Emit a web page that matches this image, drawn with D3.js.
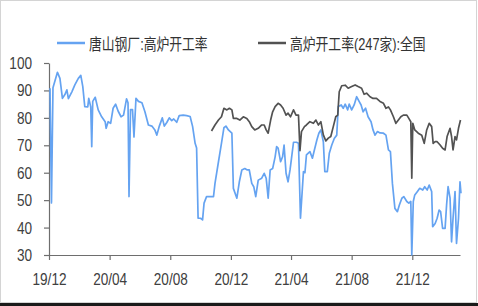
<html>
    <head>
        <meta name="viewport" content="width=device-width, initial-scale=1" />
        <script src="https://d3js.org/d3.v7.min.js"></script>
        <title>高炉开工率</title>
        <style>
            body { margin: 0; background: #fff; }
            text { font-family: "Liberation Sans", "Noto Sans CJK SC", sans-serif; }
        </style>
    </head>

    <body>
        <div id="chart"></div>
    </body>

    <script>
        // 唐山钢厂:高炉开工率
        var tangshanDates = [
            "2019-12-03","2019-12-06","2019-12-09","2019-12-18","2019-12-23","2019-12-28","2020-01-02","2020-01-06",
            "2020-01-09","2020-01-16","2020-01-22","2020-01-29","2020-02-03","2020-02-07","2020-02-11","2020-02-17",
            "2020-02-19","2020-02-23","2020-02-25","2020-02-27","2020-03-03","2020-03-09","2020-03-16","2020-03-23",
            "2020-03-25","2020-03-29","2020-04-03","2020-04-08","2020-04-13","2020-04-18","2020-04-24","2020-04-29",
            "2020-05-05","2020-05-08","2020-05-10","2020-05-13","2020-05-17","2020-05-20","2020-05-24","2020-05-29",
            "2020-06-05","2020-06-11","2020-06-18","2020-06-25","2020-07-01","2020-07-05","2020-07-10","2020-07-16",
            "2020-07-20","2020-07-25","2020-07-30","2020-08-04","2020-08-08","2020-08-14","2020-08-19","2020-08-27",
            "2020-09-03","2020-09-10","2020-09-15","2020-09-20","2020-09-23","2020-09-26","2020-10-01","2020-10-05",
            "2020-10-08","2020-10-13","2020-10-20","2020-10-27","2020-10-30","2020-11-06","2020-11-12","2020-11-17",
            "2020-11-21","2020-11-26","2020-12-03","2020-12-06","2020-12-13","2020-12-18","2020-12-23","2020-12-29",
            "2021-01-03","2021-01-07","2021-01-12","2021-01-16","2021-01-20","2021-01-25","2021-02-01","2021-02-06",
            "2021-02-10","2021-02-14","2021-02-18","2021-02-23","2021-02-28","2021-03-03","2021-03-06","2021-03-11",
            "2021-03-15","2021-03-18","2021-03-22","2021-03-26","2021-03-30","2021-04-02","2021-04-06","2021-04-12",
            "2021-04-16","2021-04-20","2021-04-26","2021-04-29","2021-05-02","2021-05-09","2021-05-14","2021-05-18",
            "2021-05-23","2021-05-27","2021-05-31","2021-06-05","2021-06-08","2021-06-13","2021-06-17","2021-06-22",
            "2021-06-27","2021-07-02","2021-07-05","2021-07-11","2021-07-15","2021-07-19","2021-07-24","2021-07-27",
            "2021-08-01","2021-08-06","2021-08-11","2021-08-16","2021-08-20","2021-08-24","2021-08-29","2021-09-03",
            "2021-09-09","2021-09-13","2021-09-17","2021-09-22","2021-09-27","2021-10-04","2021-10-09","2021-10-14",
            "2021-10-18","2021-10-22","2021-10-27","2021-11-01","2021-11-05","2021-11-10","2021-11-14","2021-11-20",
            "2021-11-24","2021-11-28","2021-11-30","2021-12-03","2021-12-06","2021-12-11","2021-12-16","2021-12-22",
            "2021-12-26","2021-12-31","2022-01-04","2022-01-09","2022-01-11","2022-01-16","2022-01-20","2022-01-24",
            "2022-01-27","2022-01-31","2022-02-05","2022-02-08","2022-02-11","2022-02-15","2022-02-18","2022-02-21",
            "2022-02-25","2022-02-28","2022-03-04","2022-03-07","2022-03-09"
        ];
        var tangshanRate = [
            90.8, 49, 91, 96.6, 94.4, 87.1, 88.5, 90.2,
            87, 89.5, 92, 94.4, 95.5, 91.4, 84.1, 84,
            87.1, 84, 69.5, 86, 87.5, 82.9, 80.4, 78.6,
            76.2, 78.6, 78, 83.5, 85, 82.5, 80.4, 81,
            86.9, 85.5, 51.3, 83, 83, 73, 87.1, 86,
            85.5, 82.2, 77.4, 77, 75.6, 73.7, 77, 80,
            77, 78.3, 80, 79, 79.6, 78.4, 80.8, 81,
            80.8, 80.5, 76.8, 70.7, 69, 43.4, 43.4, 42.8,
            48.9, 51.3, 51.3, 51.3, 56.1, 64, 70.7, 76.4,
            77, 75.6, 74.4, 54.3, 50.7, 56.7, 61, 61.5,
            61, 61, 56.1, 54.9, 51.3, 57.3, 58, 59.8,
            58, 50.7, 61, 61.5, 65.8, 69.5, 69, 64,
            65.8, 70.1, 59.8, 56.7, 61, 65.3, 71.1, 71.1,
            70.7, 43.4, 60.4, 60, 66.5, 67.7, 65.3, 68.3,
            71.9, 74.4, 75.6, 71.3, 60.4, 60.4, 67.1, 70.1,
            72.5, 73.7, 84.1, 84.7, 83.5, 85, 82.9, 85,
            82.9, 84.7, 87.7, 86, 84.7, 82.2, 83.5, 80.4,
            78.6, 75.6, 73.7, 75, 74.5, 74.4, 73.7, 68.3,
            67.7, 56.1, 47, 45.8, 48.2, 50.7, 51.3, 49.5,
            48.9, 49.5, 30, 49.5, 51.9, 53.1, 54.3, 53.7,
            54.9, 53.7, 55.5, 53.1, 40.3, 41.5, 43.4, 46.4,
            45.8, 39.7, 39.7, 48.2, 54.9, 50.7, 34.8, 43.4,
            53.1, 34.2, 43.4, 56.7, 52.5
        ];

        // 高炉开工率(247家):全国
        var nationalDates = [
            "2020-10-23","2020-10-30","2020-11-06","2020-11-12","2020-11-17","2020-11-23","2020-11-28","2020-12-03",
            "2020-12-06","2020-12-13","2020-12-19","2020-12-26","2021-01-02","2021-01-07","2021-01-12","2021-01-18",
            "2021-01-25","2021-02-01","2021-02-06","2021-02-10","2021-02-14","2021-02-19","2021-02-23","2021-02-28",
            "2021-03-06","2021-03-11","2021-03-16","2021-03-22","2021-03-26","2021-03-31","2021-04-06","2021-04-11",
            "2021-04-16","2021-04-19","2021-04-22","2021-04-28","2021-05-02","2021-05-09","2021-05-16","2021-05-21",
            "2021-05-26","2021-05-31","2021-06-05","2021-06-10","2021-06-15","2021-06-20","2021-06-25","2021-06-30",
            "2021-07-04","2021-07-07","2021-07-12","2021-07-19","2021-07-25","2021-08-01","2021-08-08","2021-08-14",
            "2021-08-21","2021-08-26","2021-08-31","2021-09-07","2021-09-13","2021-09-20","2021-09-27","2021-10-04",
            "2021-10-09","2021-10-14","2021-10-18","2021-10-24","2021-10-29","2021-11-03","2021-11-08","2021-11-13",
            "2021-11-20","2021-11-24","2021-11-28","2021-11-30","2021-12-02","2021-12-06","2021-12-13","2021-12-20",
            "2021-12-25","2021-12-30","2022-01-04","2022-01-09","2022-01-12","2022-01-16","2022-01-20","2022-01-26",
            "2022-01-31","2022-02-05","2022-02-09","2022-02-15","2022-02-18","2022-02-21","2022-02-25","2022-02-28",
            "2022-03-04","2022-03-08"
        ];
        var nationalRate = [
            75.2, 77.4, 79.2, 80.4, 83.5, 82.9, 83.5, 82.9,
            79.8, 79.8, 79.2, 80.4, 79.8, 78.6, 76.8, 75.6,
            76.2, 77.4, 77.4, 75.6, 74.4, 79.2, 82.2, 84.1,
            85.3, 84.7, 83.5, 81, 81.7, 80.4, 82.9, 81,
            81, 68, 75, 76.8, 77.4, 78.6, 78, 79.2,
            77.4, 78.6, 73.8, 71.6, 72.6, 73.2, 76.8, 80.4,
            81, 89.5, 91.7, 91.9, 90.8, 91.4, 92, 91.4,
            90.8, 88.6, 89, 87.7, 87.1, 87.1, 86, 85.3,
            83.5, 84, 82.9, 80.4, 78, 79.2, 80.4, 81,
            81, 79.8, 78.6, 58, 78, 75.6, 74.4, 73.7,
            70.7, 75.6, 78, 76.8, 70.7, 71.3, 71.3, 70.1,
            68.9, 68.3, 73.2, 76.2, 73.2, 68.3, 73.2, 72,
            76.2, 79.2
        ];

        var seriesNames = ["唐山钢厂:高炉开工率", "高炉开工率(247家):全国"];
        var seriesColors = ["#65a3f1", "#525252"];
        var xTickDates = ["2019-12-01", "2020-04-01", "2020-08-01", "2020-12-01", "2021-04-01", "2021-08-01", "2021-12-01"];
        var xDomain = ["2019-12-01", "2022-03-07"];
        var yTicks = [30, 40, 50, 60, 70, 80, 90, 100];

        var W = 478, H = 306;
        var margin = { top: 63, right: 18, bottom: 51, left: 49 },
            width = W - margin.left - margin.right,
            height = H - margin.top - margin.bottom;
        var squeeze = 0.8; // the picture's text is narrowed horizontally

        var parse = d3.timeParse("%Y-%m-%d");

        var svg = d3.select("#chart")
            .append("svg")
            .attr("width", W)
            .attr("height", H);

        // frame
        svg.append("rect")
            .attr("x", 0.5).attr("y", 0.5)
            .attr("width", W - 2).attr("height", H - 4)
            .attr("fill", "none")
            .attr("stroke", "#d4d4d4");
        svg.append("rect")
            .attr("x", 0).attr("y", H - 3)
            .attr("width", W).attr("height", 3)
            .attr("fill", "#1a1a1a");

        var g = svg.append("g")
            .attr("transform", "translate(" + margin.left + "," + margin.top + ")");

        var x = d3.scaleTime()
            .domain(xDomain.map(parse))
            .range([0, width]);

        var y = d3.scaleLinear()
            .domain([30, 100])
            .range([height, 0]);

        function narrow(sel) {
            sel.each(function () {
                var t = d3.select(this);
                var x0 = +t.attr("x") || 0;
                t.attr("x", 0).attr("transform", "translate(" + x0 + ",0) scale(" + squeeze + ",1)");
            });
        }

        var xAxis = g.append("g")
            .attr("transform", "translate(0," + height + ")")
            .call(d3.axisBottom(x)
                .tickValues(xTickDates.map(parse))
                .tickFormat(d3.timeFormat("%y/%m"))
                .tickSize(5)
                .tickSizeOuter(0)
                .tickPadding(13));

        var yAxis = g.append("g")
            .call(d3.axisLeft(y)
                .tickValues(yTicks)
                .tickSize(5)
                .tickSizeOuter(0)
                .tickPadding(12));

        [xAxis, yAxis].forEach(function (ax) {
            ax.select(".domain").attr("stroke", "#6e6e6e").attr("stroke-width", 1.2);
            ax.selectAll(".tick line").attr("stroke", "#6e6e6e").attr("stroke-width", 1.2);
            ax.selectAll("text")
                .attr("fill", "#404040")
                .style("font-size", "17px")
                .call(narrow);
        });

        var line = d3.line()
            .x(function (d) { return x(d.date); })
            .y(function (d) { return y(d.value); });

        var tangshan = tangshanDates.map(function (d, i) { return { date: parse(d), value: tangshanRate[i] }; });
        var national = nationalDates.map(function (d, i) { return { date: parse(d), value: nationalRate[i] }; });

        [tangshan, national].forEach(function (data, i) {
            g.append("path")
                .datum(data)
                .attr("fill", "none")
                .attr("stroke", seriesColors[i])
                .attr("stroke-width", 1.7)
                .attr("stroke-linejoin", "round")
                .attr("d", line);
        });

        // legend
        var legendX = [57, 258];
        var legend = svg.append("g");
        seriesNames.forEach(function (name, i) {
            legend.append("line")
                .attr("x1", legendX[i]).attr("x2", legendX[i] + 28)
                .attr("y1", 43).attr("y2", 43)
                .attr("stroke", seriesColors[i])
                .attr("stroke-width", 2.5);
            legend.append("text")
                .attr("x", legendX[i] + 32)
                .attr("y", 50)
                .attr("fill", "#333")
                .style("font-size", "16px")
                .text(name)
                .call(narrow);
        });
    </script>
</html>
